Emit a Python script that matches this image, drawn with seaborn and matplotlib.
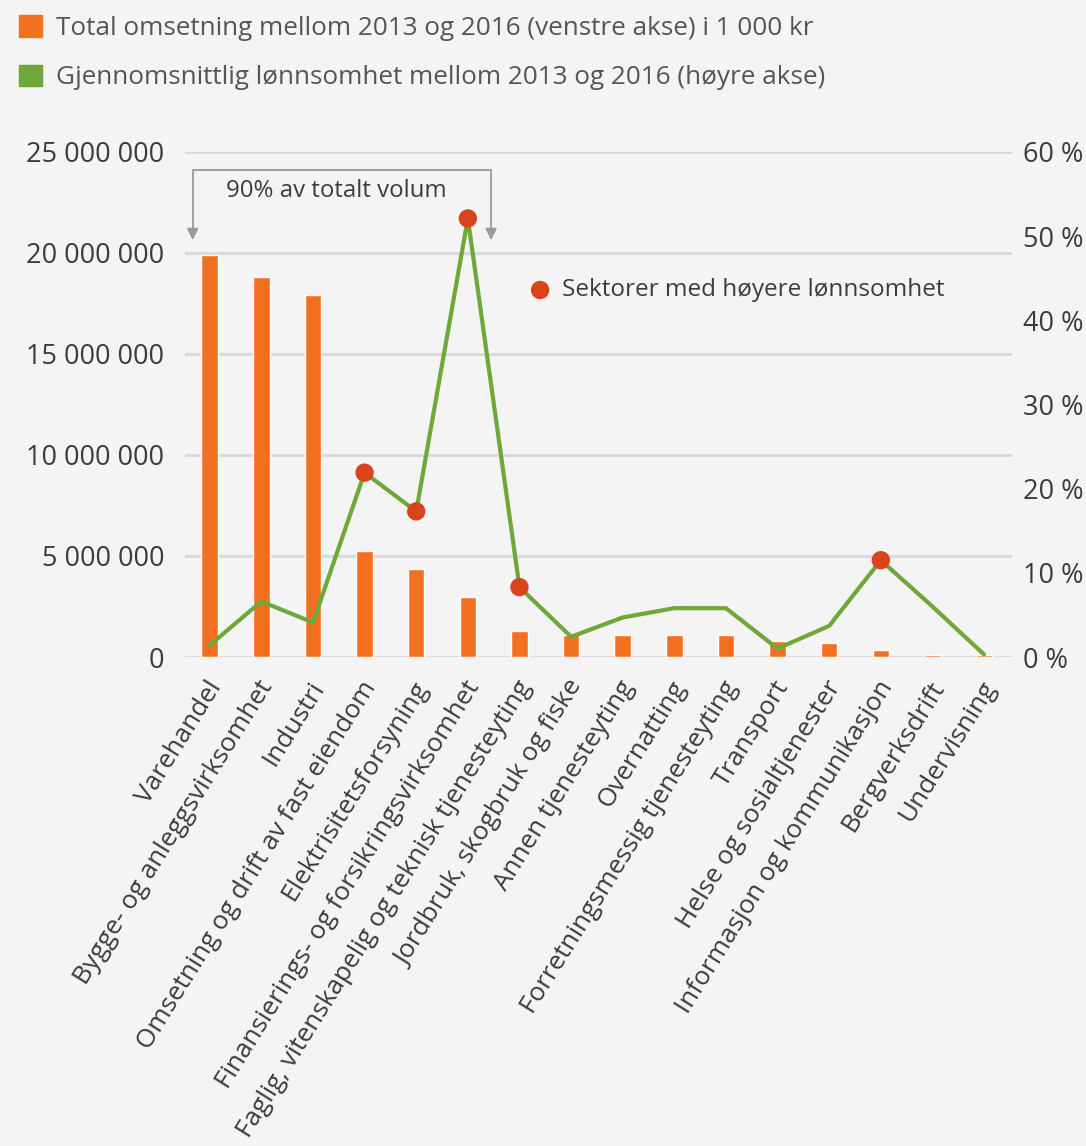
import numpy as np
import pandas as pd
import seaborn as sns
import matplotlib.pyplot as plt
import matplotlib.transforms as mtransforms
from matplotlib.patches import Patch
from matplotlib.ticker import FuncFormatter

# Data
sektorer = [
    "Varehandel",
    "Bygge- og anleggsvirksomhet",
    "Industri",
    "Omsetning og drift av fast eiendom",
    "Elektrisitetsforsyning",
    "Finansierings- og forsikringsvirksomhet",
    "Faglig, vitenskapelig og teknisk tjenesteyting",
    "Jordbruk, skogbruk og fiske",
    "Annen tjenesteyting",
    "Overnatting",
    "Forretningsmessig tjenesteyting",
    "Transport",
    "Helse og sosialtjenester",
    "Informasjon og kommunikasjon",
    "Bergverksdrift",
    "Undervisning",
]
omsetning = [19900000, 18800000, 17900000, 5250000, 4350000, 2950000, 1300000, 1100000,
             1070000, 1070000, 1070000, 800000, 690000, 330000, 120000, 80000]
lonnsomhet = [1.4, 6.6, 4.1, 21.9, 17.3, 52.1, 8.3, 2.4, 4.7, 5.8, 5.8, 1.0, 3.7, 11.5, 6.0, 0.3]
hoy_lonnsomhet = [False, False, False, True, True, True, True, False,
                  False, False, False, False, False, True, False, False]

ORANGE = "#f37021"
GREEN = "#6ea83a"
RED = "#d9441c"
GRID = "#dadada"
TEXT = "#3c3c3c"
LEG_TEXT = "#555555"
BG = "#f3f4f3"


def set_style():
    sns.set_theme(style="white")
    plt.rcParams["font.family"] = ["Open Sans", "DejaVu Sans"]
    plt.rcParams["figure.facecolor"] = BG
    plt.rcParams["axes.facecolor"] = BG


def main():
    set_style()
    df = pd.DataFrame({
        "Sektor": sektorer,
        "Omsetning": omsetning,
        "Lonnsomhet": lonnsomhet,
        "Hoy": hoy_lonnsomhet,
    })
    df["pos"] = np.arange(len(df))

    fig = plt.figure(figsize=(10.86, 11.46), dpi=100)
    ax = fig.add_axes([0.1703, 0.4267, 0.7615, 0.4407])

    sns.barplot(data=df, x="Sektor", y="Omsetning", color=ORANGE, width=0.32,
                saturation=1, ax=ax, zorder=2)
    ax.set_ylim(0, 25000000)
    ax.set_xlim(-0.48, 15.54)
    ax.set_yticks(np.arange(0, 25000001, 5000000))
    ax.yaxis.set_major_formatter(FuncFormatter(lambda v, p: f"{int(v):,}".replace(",", " ")))
    for y in ax.get_yticks():
        ax.axhline(y, color=GRID, lw=2.2, zorder=0)
    ax.set_xlabel("")
    ax.set_ylabel("")
    sns.despine(ax=ax, left=True, bottom=True)
    ax.tick_params(axis="y", labelsize=19.5, labelcolor=TEXT, length=0, pad=15)
    ax.tick_params(axis="x", labelsize=18.8, labelcolor=TEXT, length=0, pad=14)
    ax.set_xticks(df["pos"])
    ax.set_xticklabels(sektorer, rotation=58, ha="right", va="top", rotation_mode="anchor")
    shift = mtransforms.ScaledTranslation(-3 / 72, 0, fig.dpi_scale_trans)
    for lab in ax.get_xticklabels():
        lab.set_transform(lab.get_transform() + shift)

    ax2 = ax.twinx()
    sns.lineplot(data=df, x="pos", y="Lonnsomhet", color=GREEN, lw=3, ax=ax2, zorder=3)
    sns.scatterplot(data=df[df["Hoy"]], x="pos", y="Lonnsomhet", color=RED, s=175,
                    edgecolor="none", ax=ax2, zorder=4)
    ax2.set_ylim(0, 60)
    ax2.set_yticks(np.arange(0, 61, 10))
    ax2.yaxis.set_major_formatter(FuncFormatter(lambda v, p: f"{int(v)} %"))
    ax2.set_xlabel("")
    ax2.set_ylabel("")
    sns.despine(ax=ax2, left=True, bottom=True, right=True)
    ax2.tick_params(axis="y", labelsize=19.5, labelcolor=TEXT, length=0, pad=8)
    ax2.set_xlim(-0.48, 15.54)

    # bracket "90% av totalt volum"
    ax.plot([-0.33, -0.33, 5.45, 5.45], [20900000, 24100000, 24100000, 20900000],
            color="#9a9a9a", lw=1.3, zorder=1)
    for xb in (-0.33, 5.45):
        ax.annotate("", xy=(xb, 20500000), xytext=(xb, 21300000),
                    arrowprops=dict(arrowstyle="-|>", color="#9a9a9a", lw=1.3,
                                    mutation_scale=17))
    ax.text(2.46, 23050000, "90% av totalt volum", ha="center", va="center",
            fontsize=17.3, color=TEXT)

    # marker explanation
    ax2.scatter([6.4], [43.6], s=175, color=RED, edgecolor="none", zorder=4)
    ax2.text(6.82, 43.6, "Sektorer med høyere lønnsomhet", ha="left", va="center",
             fontsize=17.5, color=TEXT)

    handles = [
        Patch(color=ORANGE, label="Total omsetning mellom 2013 og 2016 (venstre akse) i 1 000 kr"),
        Patch(color=GREEN, label="Gjennomsnittlig lønnsomhet mellom 2013 og 2016 (høyre akse)"),
    ]
    fig.legend(handles=handles, loc="upper left", bbox_to_anchor=(-0.004, 1.007),
               frameon=False, fontsize=18.8, handlelength=0.88, handleheight=0.88,
               handletextpad=0.55, labelspacing=0.9, labelcolor=LEG_TEXT)

    fig.savefig("out.png", dpi=100, facecolor=BG)


if __name__ == "__main__":
    main()
